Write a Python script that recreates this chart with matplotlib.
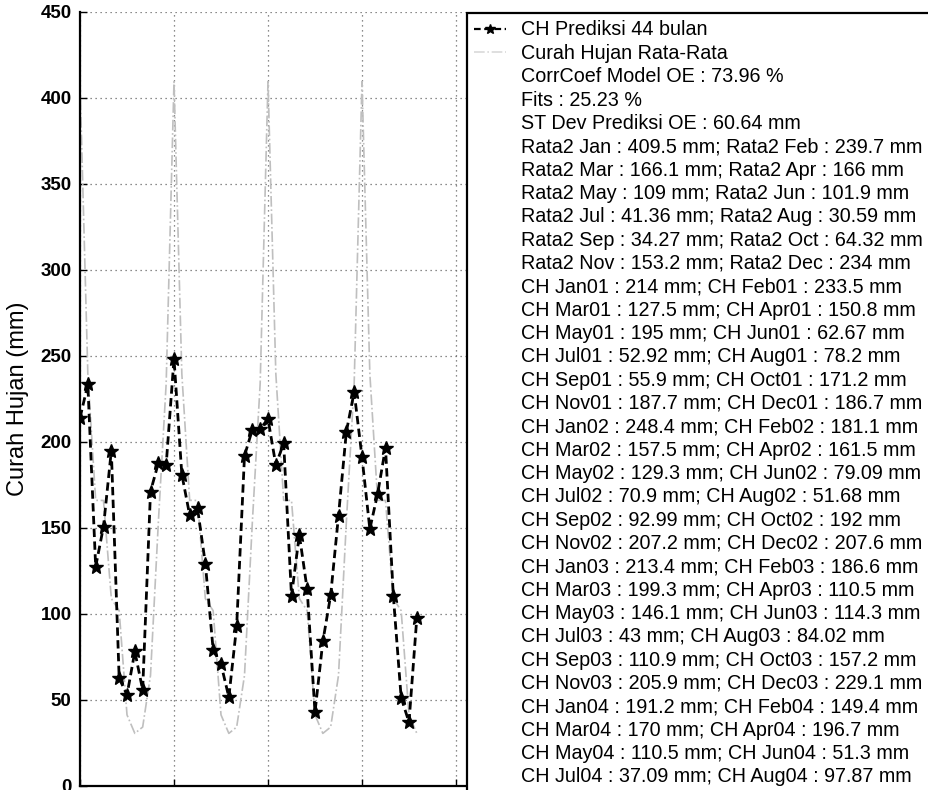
import matplotlib
matplotlib.use("Agg")
from matplotlib import pyplot as plt
from matplotlib.lines import Line2D

plt.rcParams['font.family'] = ['Liberation Sans', 'DejaVu Sans']

# data
bulan = ['Jan', 'Feb', 'Mar', 'Apr', 'May', 'Jun',
         'Jul', 'Aug', 'Sep', 'Oct', 'Nov', 'Dec']
rata2 = [409.5, 239.7, 166.1, 166, 109, 101.9,
         41.36, 30.59, 34.27, 64.32, 153.2, 234]
rata2_txt = ['409.5', '239.7', '166.1', '166', '109', '101.9',
             '41.36', '30.59', '34.27', '64.32', '153.2', '234']
prediksi = [214, 233.5, 127.5, 150.8, 195, 62.67, 52.92, 78.2, 55.9, 171.2, 187.7, 186.7,
            248.4, 181.1, 157.5, 161.5, 129.3, 79.09, 70.9, 51.68, 92.99, 192, 207.2, 207.6,
            213.4, 186.6, 199.3, 110.5, 146.1, 114.3, 43, 84.02, 110.9, 157.2, 205.9, 229.1,
            191.2, 149.4, 170, 196.7, 110.5, 51.3, 37.09, 97.87]
prediksi_txt = ['214', '233.5', '127.5', '150.8', '195', '62.67', '52.92', '78.2', '55.9', '171.2', '187.7', '186.7',
                '248.4', '181.1', '157.5', '161.5', '129.3', '79.09', '70.9', '51.68', '92.99', '192', '207.2', '207.6',
                '213.4', '186.6', '199.3', '110.5', '146.1', '114.3', '43', '84.02', '110.9', '157.2', '205.9', '229.1',
                '191.2', '149.4', '170', '196.7', '110.5', '51.3', '37.09', '97.87']
corrcoef = '73.96'
fits = '25.23'
stdev = '60.64'
tahun_awal = 2001

n = len(prediksi)
waktu = [tahun_awal + i / 12.0 for i in range(n)]
rata_series = [rata2[i % 12] for i in range(n)]

fig = plt.figure(figsize=(9.29, 7.90), dpi=100)
ax = fig.add_axes([80 / 929, 4 / 790, 390 / 929, 774 / 790])

ax.plot(waktu, rata_series, color='0.75', linestyle='-.', linewidth=1.2, zorder=2,
        label='Curah Hujan Rata-Rata')
ax.plot(waktu, prediksi, color='black', linestyle='--', dashes=(3, 1.6), linewidth=2.0,
        marker='*', markersize=10, zorder=3, label='CH Prediksi 44 bulan')

ax.set_xlim(tahun_awal, tahun_awal + 390 / 94)
ax.set_ylim(0, 450)
ax.set_yticks(range(0, 451, 50))
ax.set_xticks(range(tahun_awal, tahun_awal + 5))
ax.set_xticklabels([])  # label tahun terpotong di bawah gambar
ax.set_ylabel('Curah Hujan (mm)', fontsize=17, labelpad=8)
ax.tick_params(direction='in', length=5, width=1, labelsize=13.5, pad=6)
for lbl in ax.get_yticklabels():
    lbl.set_fontweight('bold')
ax.spines['top'].set_visible(False)
ax.spines['right'].set_visible(False)
ax.spines['left'].set_linewidth(1.6)
ax.spines['bottom'].set_linewidth(1.6)
ax.grid(True, color='0.4', linestyle=(0, (1, 3)), linewidth=0.9)
ax.set_axisbelow(True)

# legend entries
h_pred = Line2D([], [], color='black', linestyle='--', dashes=(3, 1.6), linewidth=1.6,
                marker='*', markersize=7)
h_rata = Line2D([], [], color='0.85', linestyle='-.', linewidth=1.2)
handles = [h_pred, h_rata]
labels = ['CH Prediksi 44 bulan', 'Curah Hujan Rata-Rata',
          'CorrCoef Model OE : %s %%' % corrcoef,
          'Fits : %s %%' % fits,
          'ST Dev Prediksi OE : %s mm' % stdev]
for i in range(0, 12, 2):
    labels.append('Rata2 %s : %s mm; Rata2 %s : %s mm'
                  % (bulan[i], rata2_txt[i], bulan[i + 1], rata2_txt[i + 1]))
for i in range(0, n, 2):
    th = '%02d' % ((i // 12) + 1)
    labels.append('CH %s%s : %s mm; CH %s%s : %s mm'
                  % (bulan[i % 12], th, prediksi_txt[i], bulan[(i + 1) % 12], th, prediksi_txt[i + 1]))
while len(handles) < len(labels):
    handles.append(Line2D([], [], color='none'))

leg = fig.legend(handles, labels, loc='upper left',
                 bbox_to_anchor=(467 / 929, 1 - 13 / 790), bbox_transform=fig.transFigure,
                 fontsize=14.2, labelspacing=0.22, handlelength=1.6, handletextpad=0.75,
                 borderpad=0.38, borderaxespad=0, fancybox=False, framealpha=1)
leg.get_frame().set_edgecolor('black')
leg.get_frame().set_linewidth(1.6)

plt.savefig('out.png', dpi=100)
